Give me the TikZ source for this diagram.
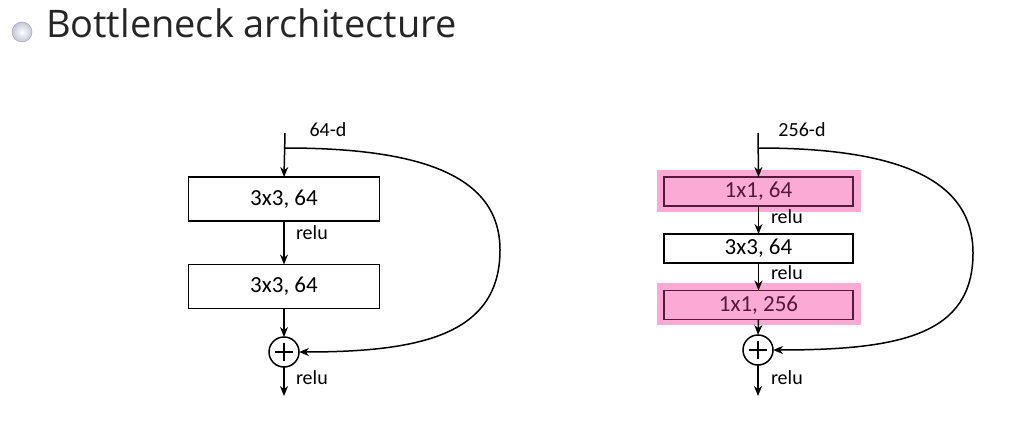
\documentclass[tikz,border=0pt]{standalone}
\usepackage{fontspec}
\setmainfont{Carlito}
\newfontfamily\titlefont{Open Sans}
\usetikzlibrary{arrows.meta,shadings}
\definecolor{hlpink}{RGB}{250,170,212}
\definecolor{hlline}{RGB}{85,25,60}
\definecolor{bulletc}{RGB}{196,199,215}
\begin{document}
\begin{tikzpicture}[x=1pt,y=-1pt,
  every node/.style={inner sep=0pt,outer sep=0pt},
  conv/.style={draw=black,line width=1.7pt,fill=white,minimum width=191pt,minimum height=44pt,font=\fontsize{23}{25}\selectfont},
  convb/.style={draw=black,line width=1.7pt,fill=white,minimum width=189pt,minimum height=29pt,font=\fontsize{23}{25}\selectfont},
  convp/.style={draw=hlline,line width=1.7pt,fill=hlpink,text=hlline,minimum width=189pt,minimum height=29pt,font=\fontsize{23}{25}\selectfont},
  hl/.style={fill=hlpink,minimum width=204pt,minimum height=42pt},
  lbl/.style={font=\fontsize{20}{22}\selectfont,anchor=west},
  dimlbl/.style={font=\fontsize{20}{22}\selectfont},
  plus/.style={draw=black,line width=1.5pt,circle,minimum size=30pt,fill=white},
  arr/.style={line width=1.5pt,-{Stealth[length=10pt,width=8pt]}},
]
\path[use as bounding box] (0,0) rectangle (1024,441);
\fill[white] (0,0) rectangle (1024,441);
% title
\shade[inner color=white,outer color=bulletc] (22,32) circle (10);
\draw[bulletc!80!black,line width=0.4pt] (22,32) circle (10);
\node[anchor=base west,font=\titlefont\fontsize{38}{42}\selectfont,text=black!85] (title) at (46,38) {Bottleneck architecture};

% ---------- left block ----------
\coordinate (lt) at (285,133);
\coordinate (ls) at (285,148);
\node[dimlbl] (ld) at (328,130) {64-d};
\node[conv] (l1) at (284,199) {3x3, 64};
\node[conv] (l2) at (284,286.5) {3x3, 64};
\node[plus] (lp) at (284,352) {};
\draw[line width=1.5pt] (lp.center)++(-9,0) -- ++(18,0) (lp.center)++(0,-9) -- ++(0,18);
\coordinate (lo) at (284,396);
\draw[arr] (lt) -- (l1.north);
\draw[arr] (l1.south) -- (l2.north);
\draw[arr] (l2.south) -- (lp.north);
\draw[arr] (lp.south) -- (lo);
\draw[arr] (ls) .. controls (420,148) and (500,175) .. (500,250) .. controls (500,335) and (420,352) .. (lp.east);
\node[lbl] (lr1) at (296,233) {relu};
\node[lbl] (lr2) at (296,378) {relu};

% ---------- right block ----------
\coordinate (rt) at (758,133);
\coordinate (rs) at (758,148);
\node[dimlbl] (rd) at (802,130) {256-d};
\node[hl] (h1) at (759,191) {};
\node[hl] (h3) at (759,304) {};
\node[convp] (r1) at (758.5,191.5) {1x1, 64};
\node[convb] (r2) at (758.5,248.5) {3x3, 64};
\node[convp] (r3) at (758.5,305) {1x1, 256};
\node[plus] (rp) at (758,350) {};
\draw[line width=1.5pt] (rp.center)++(-9,0) -- ++(18,0) (rp.center)++(0,-9) -- ++(0,18);
\coordinate (ro) at (758,396);
\draw[arr] (rt) -- (r1.north);
\draw[arr] (r1.south) -- (r2.north);
\draw[arr] (r2.south) -- (r3.north);
\draw[arr] (r3.south) -- (rp.north);
\draw[arr] (rp.south) -- (ro);
\draw[arr] (rs) .. controls (900,148) and (973,180) .. (973,253) .. controls (973,335) and (900,350) .. (rp.east);
\node[lbl] (rr1) at (771,217) {relu};
\node[lbl] (rr2) at (771,273) {relu};
\node[lbl] (rr3) at (771,378) {relu};
\end{tikzpicture}
\end{document}
